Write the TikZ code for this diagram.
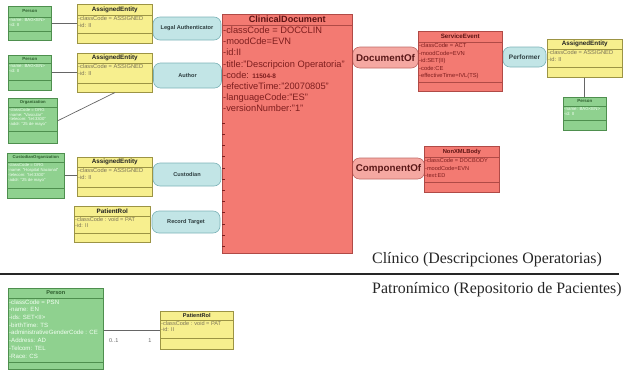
\documentclass[tikz,border=0pt]{standalone}
\usepackage{fontspec}
\setmainfont{Liberation Sans}
\newfontfamily\captionfont{Liberation Serif}
\definecolor{gfill}{HTML}{8FD18F}
\definecolor{gdraw}{HTML}{4E8F4E}
\definecolor{gtitle}{HTML}{2E5E2E}
\definecolor{gtext}{HTML}{F2FFF2}
\definecolor{yfill}{HTML}{F7EF8E}
\definecolor{ydraw}{HTML}{9C9444}
\definecolor{ytitle}{HTML}{222222}
\definecolor{ytext}{HTML}{7C7458}
\definecolor{rfill}{HTML}{F37A72}
\definecolor{rdraw}{HTML}{B04A46}
\definecolor{rtitle}{HTML}{5E1414}
\definecolor{rtext}{HTML}{7E1E1E}
\definecolor{tfill}{HTML}{C2E5E6}
\definecolor{tdraw}{HTML}{7DB3B8}
\definecolor{ttext}{HTML}{2E3E40}
\definecolor{pfill}{HTML}{F5A8A2}
\definecolor{pdraw}{HTML}{C06A66}
\definecolor{ptext}{HTML}{5A1818}
\definecolor{ink}{HTML}{666666}
\tikzset{
  cbox/.style={draw, line width=0.6pt},
  cline/.style={line width=0.6pt},
  ctitle/.style={inner sep=0pt},
  cattr/.style={align=left, inner xsep=1pt, inner ysep=1.5pt},
  cfont/.style n args={3}{ctitle/.append style={font=\fontsize{#1}{#1}\selectfont\bfseries},
    cattr/.append style={font=\fontsize{#2}{#3}\selectfont}},
  gclass/.style={cbox/.append style={fill=gfill, draw=gdraw}, cline/.append style={draw=gdraw},
    ctitle/.append style={text=gtitle}, cattr/.append style={text=gtext}},
  yclass/.style={cbox/.append style={fill=yfill, draw=ydraw}, cline/.append style={draw=ydraw},
    ctitle/.append style={text=ytitle}, cattr/.append style={text=ytext}},
  rclass/.style={cbox/.append style={fill=rfill, draw=rdraw}, cline/.append style={draw=rdraw},
    ctitle/.append style={text=rtitle}, cattr/.append style={text=rtext}},
  assoc/.style={draw=tdraw, fill=tfill, line width=0.6pt, rounded corners=7pt, minimum width=68,
    minimum height=23, text=ttext, font=\fontsize{5.6}{5.6}\selectfont\bfseries},
  act/.style={draw=pdraw, fill=pfill, line width=0.6pt, rounded corners=7pt, minimum height=21,
    text=ptext, font=\fontsize{9.8}{9.8}\selectfont\bfseries},
  link/.style={draw=ink, line width=0.7pt},
  mult/.style={inner sep=0pt, font=\fontsize{5.5}{5.5}\selectfont, text=ink},
  caption/.style={inner sep=0pt, font=\captionfont\fontsize{15.9}{15.9}\selectfont, text=black!85}
}
% class box: keys, name, top left, width, title/attr/empty heights, title, attributes
\newcommand{\umlclass}[9]{%
  \begin{scope}[#1]
    \node[cbox, anchor=north west, minimum width=#4, minimum height={#5+#6+#7}] (#2) at (#3) {};
    \draw[cline] ([yshift=-#5]#2.north west) -- ([yshift=-#5]#2.north east);
    \draw[cline] ([yshift={-(#5+#6)}]#2.north west) -- ([yshift={-(#5+#6)}]#2.north east);
    \node[ctitle] (#2-title) at ([yshift={-#5/2}]#2.north) {#8};
    \node[cattr, anchor=north west] (#2-attr) at ([yshift=-#5]#2.north west) {#9};
  \end{scope}}

\begin{document}
\begin{tikzpicture}[x=1pt, y=-1pt]
  \useasboundingbox (0,0) rectangle (623,372);

  % participations
  \node[assoc] (legal) at (187,28.5) {Legal Authenticator};
  \node[assoc, minimum height=25] (author) at (187.5,75.5) {Author};
  \node[assoc] (custodian) at (187,174.5) {Custodian};
  \node[assoc, minimum height=22] (rectarget) at (186,222) {Record Target};
  \node[act, minimum width=65] (docof) at (385.5,57.5) {DocumentOf};
  \node[act, minimum width=71] (compof) at (388.5,168.5) {ComponentOf};
  \node[assoc, minimum width=43, minimum height=20, font=\fontsize{6.5}{6.5}\selectfont\bfseries] (performer) at (524.5,57) {Performer};

  % roles and entities
  \umlclass{gclass, cfont={4.4}{4.4}{5}}{p1}{8,6}{43}{11}{14}{9}{Person}{-name: BAG<EN>\\-id: II}
  \umlclass{gclass, cfont={4.4}{4.4}{5}}{p2}{8,55}{43}{8}{17}{10}{Person}{-name: BAG<EN>\\-id: II}
  \umlclass{gclass, cfont={4.2}{4.2}{4.6}}{org}{8,98}{49}{9}{24}{12}{Organization}{-classCode = ORG\\-name: "Vascular"\\-telecom: "tel:3300"\\-addr: "25 de mayo"}
  \umlclass{gclass, cfont={4.2}{4.2}{4.8}}{custorg}{7,153}{57}{9}{26}{10}{CustodianOrganization}{-classCode = ORG\\-name: "Hospital Nacional"\\-telecom: "tel:3300"\\-addr: "25 de mayo"}
  \umlclass{yclass, cfont={6.3}{5.75}{6.2}}{ae1}{77,4}{75}{11}{18}{10}{AssignedEntity}{-classCode = ASSIGNED\\-id: II}
  \umlclass{yclass, cfont={6.3}{5.75}{6.2}}{ae2}{77,53}{75}{10}{20}{9}{AssignedEntity}{-classCode = ASSIGNED\\-id: II}
  \umlclass{yclass, cfont={6.3}{5.75}{6.2}}{ae3}{77,157}{75}{10}{20}{9}{AssignedEntity}{-classCode = ASSIGNED\\-id: II}
  \umlclass{yclass, cfont={6.3}{5.6}{6.2}}{pr1}{74,206}{76}{10}{17}{9}{PatientRol}{-classCode : void = PAT\\-id: II}

  % acts
  \umlclass{rclass, cfont={9.1}{9.3}{11.2}}{cd}{222,14}{130}{11}{228}{0}{ClinicalDocument}{-classCode = DOCCLIN\\-moodCde=EVN\\-id:II\\-title:"Descripcion Operatoria"\\-code: {\bfseries\fontsize{6.5}{11.2}\selectfont 11504-8}\\-efectiveTime:"20070805"\\-languageCode:"ES"\\-versionNumber:"1"}
  \foreach \k in {0,...,11}
    \draw[rtext, line width=0.6pt] ([yshift={-(109+11.2*\k)}]cd.north west) -- ++(3,0);
  \umlclass{rclass, cfont={6.2}{5.8}{7.4}}{se}{418,31}{84}{11}{40}{9}{ServiceEvent}{-classCode = ACT\\-moodCode=EVN\\-id:SET(II)\\-code:CE\\-effectiveTime=IVL(TS)}
  \umlclass{rclass, cfont={5.8}{5.6}{7.4}}{body}{424,146}{75}{11}{25}{10}{NonXMLBody}{-classCode = DOCBODY\\-moodCode=EVN\\-text:ED}
  \umlclass{yclass, cfont={6.3}{5.75}{6.2}}{ae4}{547,39}{75}{10}{18}{10}{AssignedEntity}{-classCode = ASSIGNED\\-id: II}
  \umlclass{gclass, cfont={4.4}{4.4}{5}}{p4}{563,97}{43}{9}{14}{10}{Person}{-name: BAG<EN>\\-id: II}

  \draw[link] (p1.east) -- (p1.east -| ae1.west);
  \draw[link] (p2.east) -- (p2.east -| ae2.west);
  \draw[link] (org.east) -- (ae2.south);
  \draw[link] (custorg.east) -- (custorg.east -| ae3.west);
  \draw[link] (ae4.south) -- (p4.north);

  % separator
  \node[caption, anchor=west] (clinico) at (372,260) {Clínico (Descripciones Operatorias)};
  \coordinate (sepL) at (0,274);
  \coordinate (sepR) at (619,274);
  \draw[black!85, line width=1.6pt] (sepL) -- (sepR);
  \node[caption, anchor=west] (patron) at (372,290) {Patronímico (Repositorio de Pacientes)};

  % patient registry
  \umlclass{gclass, cfont={5.6}{6.1}{7.7}}{pb}{8,288}{95}{10}{64}{7}{Person}{-classCode = PSN\\-name: EN\\-ids: SET<II>\\-birthTime: TS\\-administrativeGenderCode : CE\\-Address: AD\\-Telcom: TEL\\-Race: CS}
  \umlclass{yclass, cfont={5.6}{5.6}{6.2}}{pr2}{160,311}{73}{9}{18}{11}{PatientRol}{-classCode : void = PAT\\-id: II}
  \draw[link] (pb.east |- pr2.west) -- node[pos=0.18, below=8pt, mult] (m1) {0..1} node[pos=0.82, below=8pt, mult] (m2) {1} (pr2.west);
\end{tikzpicture}
\end{document}
